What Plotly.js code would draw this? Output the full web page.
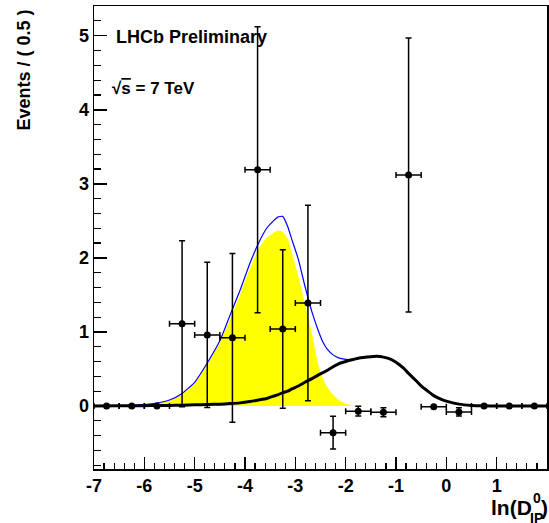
<!DOCTYPE html>
<html>
<head>
<meta charset="utf-8">
<script src="https://cdn.plot.ly/plotly-3.0.1.min.js"></script>
<style>
  html, body { margin: 0; padding: 0; background: #ffffff; }
  #chart { width: 549px; height: 523px; }
  .xtick text, .ytick text { font-weight: bold !important; }
</style>
</head>
<body>
<div id="chart"></div>
<script>
// ---- Data ----
// Binned data (bin width 0.5)
const binCenters = [-6.75, -6.25, -5.75, -5.25, -4.75, -4.25, -3.75, -3.25, -2.75, -2.25, -1.75, -1.25, -0.75, -0.25, 0.25, 0.75, 1.25, 1.75];
const binValues  = [0, 0, 0, 1.11, 0.96, 0.92, 3.19, 1.04, 1.39, -0.36, -0.07, -0.085, 3.12, -0.01, -0.08, 0, 0, 0];
const binErrors  = [0, 0, 0, 1.12, 0.98, 1.14, 1.93, 1.07, 1.32, 0.22, 0.065, 0.06, 1.85, 0, 0.055, 0, 0, 0];
const binHalfWidth = [0.25, 0.25, 0.25, 0.25, 0.25, 0.25, 0.25, 0.25, 0.25, 0.25, 0.25, 0.25, 0.25, 0.25, 0.25, 0.25, 0.25, 0.25];

// Fit curves
const curveX = [-7, -6.5, -6, -5.75, -5.5, -5.25, -5, -4.75, -4.5, -4.3,
                -4.1, -3.9, -3.73, -3.57, -3.45, -3.35, -3.25, -3.15, -3.07, -2.94,
                -2.81, -2.67, -2.54, -2.45, -2.37, -2.25, -2.14, -2, -1.9, -1.75,
                -1.5, -1.38, -1.25, -1.1, -1, -0.85, -0.75, -0.6, -0.5, -0.35,
                -0.25, -0.1, 0, 0.25, 0.5, 0.75, 1, 1.5, 2];
const signalY = [0, 0.002, 0.015, 0.035, 0.07, 0.16, 0.30, 0.56, 0.85, 1.16,
                 1.50, 1.86, 2.12, 2.27, 2.33, 2.37, 2.35, 2.26, 2.07, 1.75,
                 1.39, 0.98, 0.55, 0.37, 0.26, 0.15, 0.08, 0.03, 0.01, 0.003,
                 0, 0, 0, 0, 0, 0, 0, 0, 0, 0,
                 0, 0, 0, 0, 0, 0, 0, 0, 0];
const backgroundY = [0, 0.002, 0.004, 0.006, 0.008, 0.011, 0.015, 0.02, 0.025, 0.032,
                     0.042, 0.06, 0.08, 0.10, 0.13, 0.15, 0.18, 0.20, 0.23, 0.27,
                     0.32, 0.37, 0.42, 0.45, 0.48, 0.53, 0.57, 0.60, 0.62, 0.645,
                     0.665, 0.67, 0.66, 0.63, 0.59, 0.51, 0.44, 0.34, 0.27, 0.19,
                     0.14, 0.09, 0.065, 0.025, 0.008, 0.002, 0, 0, 0];
const totalY = [0, 0.004, 0.02, 0.04, 0.08, 0.17, 0.32, 0.58, 0.88, 1.22,
                1.56, 1.93, 2.20, 2.40, 2.49, 2.55, 2.56, 2.42, 2.25, 1.98,
                1.62, 1.27, 1.01, 0.86, 0.77, 0.69, 0.65, 0.63, 0.625, 0.648,
                0.665, 0.67, 0.66, 0.63, 0.59, 0.51, 0.44, 0.34, 0.27, 0.19,
                0.14, 0.09, 0.065, 0.025, 0.008, 0.002, 0, 0, 0];

// Axis ticks
const xTickVals = [-7, -6, -5, -4, -3, -2, -1, 0, 1, 2];
const xTickText = ['-7', '-6', '-5', '-4', '-3', '-2', '-1', '0', '1', '2'];
const yTickVals = [0, 1, 2, 3, 4, 5];
const yTickText = ['0', '1', '2', '3', '4', '5'];

// ---- Plot ----
const FONT = 'Liberation Sans, Arial, Helvetica, sans-serif';

const traces = [
  {
    x: curveX, y: signalY, type: 'scatter', mode: 'lines',
    line: {color: 'rgba(0,0,0,0)', width: 0, shape: 'spline', smoothing: 0.5},
    fill: 'tozeroy', fillcolor: '#ffff00', hoverinfo: 'skip'
  },
  {
    x: curveX, y: totalY, type: 'scatter', mode: 'lines',
    line: {color: '#0000ff', width: 1.2, shape: 'spline', smoothing: 0.5}
  },
  {
    x: curveX, y: backgroundY, type: 'scatter', mode: 'lines',
    line: {color: '#000000', width: 3, shape: 'spline', smoothing: 0.5}
  },
  {
    x: binCenters, y: binValues, type: 'scatter', mode: 'markers',
    marker: {color: '#000000', size: 7, symbol: 'circle'},
    error_y: {type: 'data', array: binErrors, visible: true, color: '#000000', thickness: 1.5, width: 3},
    error_x: {type: 'data', array: binHalfWidth, visible: true, color: '#000000', thickness: 1.5, width: 3}
  }
];

function px2paperX(px) { return (px - 94) / 453; }
function px2paperY(py) { return (469 - py) / 463; }

const layout = {
  width: 549, height: 523,
  margin: {l: 94, r: 2, t: 6, b: 54, pad: 0},
  paper_bgcolor: '#ffffff', plot_bgcolor: '#ffffff',
  showlegend: false,
  font: {family: FONT, color: '#000000'},
  xaxis: {
    range: [-7, 2], showgrid: false, zeroline: false,
    showline: true, linecolor: '#000000', linewidth: 1.5, mirror: true,
    ticks: 'inside', ticklen: 12, tickwidth: 1.5, tickcolor: '#000000',
    tickmode: 'array', tickvals: xTickVals, ticktext: xTickText,
    tickfont: {family: FONT, size: 18, color: '#000000', weight: 700},
    minor: {dtick: 0.2, ticks: 'inside', ticklen: 6, tickwidth: 1.2, tickcolor: '#000000', showgrid: false},
    ticklabelstandoff: 0
  },
  yaxis: {
    range: [-0.851, 5.401], showgrid: false, zeroline: false,
    showline: true, linecolor: '#000000', linewidth: 1.5, mirror: true,
    ticks: 'inside', ticklen: 13, tickwidth: 1.5, tickcolor: '#000000',
    tickmode: 'array', tickvals: yTickVals, ticktext: yTickText,
    tickfont: {family: FONT, size: 18, color: '#000000', weight: 700},
    minor: {dtick: 0.2, ticks: 'inside', ticklen: 6.5, tickwidth: 1.2, tickcolor: '#000000', showgrid: false},
    ticklabelstandoff: 0
  },
  annotations: [
    {
      text: '<b>Events / ( 0.5 )</b>', textangle: -90,
      xref: 'paper', yref: 'paper', x: px2paperX(23), y: px2paperY(8),
      xanchor: 'center', yanchor: 'top', showarrow: false,
      font: {family: FONT, size: 18, color: '#000000'}
    },
    {
      text: '<b>LHCb Preliminary</b>',
      xref: 'paper', yref: 'paper', x: px2paperX(114), y: px2paperY(37),
      xanchor: 'left', yanchor: 'middle', showarrow: false,
      font: {family: FONT, size: 18, color: '#000000'}
    },
    {
      text: '<b>\u221A<span style="text-decoration:overline">s</span> = 7 TeV</b>',
      xref: 'paper', yref: 'paper', x: px2paperX(110), y: px2paperY(89),
      xanchor: 'left', yanchor: 'middle', showarrow: false,
      font: {family: FONT, size: 17, color: '#000000'}
    },
    {
      text: '<b>ln(D</b>',
      xref: 'paper', yref: 'paper', x: px2paperX(534), y: px2paperY(507),
      xanchor: 'right', yanchor: 'middle', showarrow: false,
      font: {family: FONT, size: 21, color: '#000000'}
    },
    {
      text: '<b>0</b>',
      xref: 'paper', yref: 'paper', x: px2paperX(531), y: px2paperY(498),
      xanchor: 'left', yanchor: 'middle', showarrow: false,
      font: {family: FONT, size: 14, color: '#000000'}
    },
    {
      text: '<b>IP</b>',
      xref: 'paper', yref: 'paper', x: px2paperX(528), y: px2paperY(518),
      xanchor: 'left', yanchor: 'middle', showarrow: false,
      font: {family: FONT, size: 14, color: '#000000'}
    },
    {
      text: '<b>)</b>',
      xref: 'paper', yref: 'paper', x: px2paperX(539), y: px2paperY(507),
      xanchor: 'left', yanchor: 'middle', showarrow: false,
      font: {family: FONT, size: 21, color: '#000000'}
    }
  ]
};

Plotly.newPlot('chart', traces, layout, {staticPlot: true, displayModeBar: false});
</script>
</body>
</html>
